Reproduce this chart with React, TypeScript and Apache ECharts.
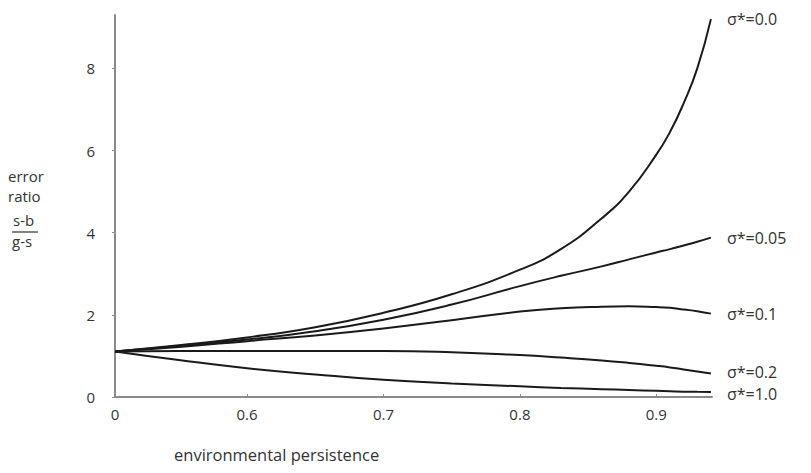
import React, { useEffect, useRef } from "react";
import * as echarts from "echarts";

const xValues = [0.5032, 0.55, 0.6, 0.65, 0.7, 0.75, 0.8, 0.83, 0.86, 0.88, 0.9, 0.91, 0.92, 0.93, 0.94];
const sigma00 = [1.11, 1.26, 1.45, 1.7, 2.05, 2.5, 3.1, 3.6, 4.35, 5.0, 5.9, 6.45, 7.15, 8.0, 9.2];
const sigma005 = [1.11, 1.24, 1.4, 1.6, 1.88, 2.25, 2.7, 2.95, 3.18, 3.35, 3.52, 3.6, 3.69, 3.78, 3.88];
const sigma01 = [1.11, 1.22, 1.36, 1.5, 1.67, 1.87, 2.08, 2.16, 2.2, 2.21, 2.19, 2.17, 2.13, 2.09, 2.03];
const sigma02 = [1.11, 1.12, 1.12, 1.12, 1.12, 1.09, 1.02, 0.96, 0.89, 0.83, 0.76, 0.72, 0.67, 0.62, 0.57];
const sigma10 = [1.11, 0.9, 0.7, 0.55, 0.42, 0.33, 0.26, 0.22, 0.19, 0.17, 0.15, 0.14, 0.13, 0.125, 0.12];
const seriesNames = ["σ*=0.0", "σ*=0.05", "σ*=0.1", "σ*=0.2", "σ*=1.0"];
const seriesValues = [sigma00, sigma005, sigma01, sigma02, sigma10];
const xTickValues = [0.5032, 0.6, 0.7, 0.8, 0.9];
const xTickLabels = ["0", "0.6", "0.7", "0.8", "0.9"];
const yTickLabels = ["0", "2", "4", "6", "8"];

const FONT = "Open Sans";

export default function App() {
  const ref = useRef<HTMLDivElement>(null);
  useEffect(() => {
    if (!ref.current) return;
    const chart = echarts.init(ref.current, undefined, { renderer: "svg" });
    chart.setOption({
      animation: false,
      backgroundColor: "#fff",
      grid: { left: 115, right: 99, top: 15, bottom: 76, containLabel: false },
      xAxis: {
        type: "value",
        min: 0.5032,
        max: 0.9408,
        splitLine: { show: false },
        axisLine: { lineStyle: { color: "#8a8a8a", width: 2 } },
        axisTick: {
          inside: true,
          length: 3,
          customValues: xTickValues.slice(1),
          lineStyle: { color: "#8a8a8a", width: 1 },
        },
        axisLabel: {
          color: "#333",
          fontFamily: FONT,
          fontSize: 15,
          margin: 9,
          customValues: xTickValues,
          formatter: (v: number) => {
            const i = xTickValues.findIndex((t) => Math.abs(t - v) < 1e-6);
            return i >= 0 ? xTickLabels[i] : "";
          },
        },
      },
      yAxis: {
        type: "value",
        min: 0,
        max: 9.3,
        interval: 2,
        splitLine: { show: false },
        axisLine: { show: true, lineStyle: { color: "#8a8a8a", width: 2 } },
        axisTick: { show: true, length: 3, lineStyle: { color: "#8a8a8a", width: 1 } },
        axisLabel: {
          color: "#333",
          fontFamily: FONT,
          fontSize: 15,
          margin: 20,
          showMaxLabel: false,
          formatter: (v: number) => yTickLabels[Math.round(v / 2)] ?? "",
        },
      },
      series: seriesValues.map((vals, i) => ({
        type: "line",
        name: seriesNames[i],
        data: xValues.map((x, j) => [x, vals[j]]),
        smooth: 0.5,
        showSymbol: false,
        lineStyle: { color: "#1a1a1a", width: 2 },
        endLabel: {
          show: true,
          formatter: seriesNames[i],
          color: "#333",
          fontFamily: FONT,
          fontSize: 16,
          lineHeight: 16,
          distance: 16,
          offset: i === 4 ? [0, 2] : i === 3 ? [0, -2] : [0, 0],
        },
      })),
      graphic: [
        { type: "text", left: 8, top: 168, style: { text: "error", font: `15px "${FONT}"`, fill: "#333" } },
        { type: "text", left: 8, top: 188, style: { text: "ratio", font: `15px "${FONT}"`, fill: "#333" } },
        { type: "text", left: 13, top: 212, style: { text: "s-b", font: `15px "${FONT}"`, fill: "#333" } },
        { type: "line", shape: { x1: 12, y1: 232, x2: 38, y2: 232 }, style: { stroke: "#333", lineWidth: 1.2 } },
        { type: "text", left: 12, top: 233, style: { text: "g-s", font: `15px "${FONT}"`, fill: "#333" } },
        { type: "text", left: 174, top: 446, style: { text: "environmental persistence", font: `16.5px "${FONT}"`, fill: "#333" } },
      ],
    });
    return () => chart.dispose();
  }, []);
  return <div ref={ref} style={{ width: 811, height: 473, margin: -8 }} />;
}
